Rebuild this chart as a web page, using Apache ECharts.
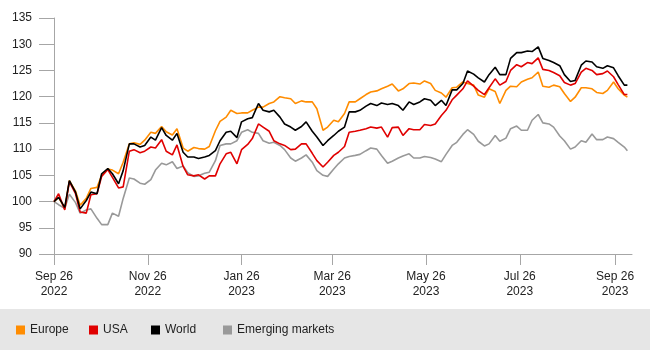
<!DOCTYPE html>
<html>
<head>
<meta charset="utf-8">
<script src="https://cdn.jsdelivr.net/npm/echarts@6/dist/echarts.min.js"></script>
<style>
  html, body { margin: 0; padding: 0; background: #fff; }
  #chart { width: 650px; height: 350px; }
</style>
</head>
<body>
<div id="chart"></div>
<script>
// dates (every Mon / Thu)
const dates = ["2022-09-26","2022-09-29","2022-10-03","2022-10-06","2022-10-10","2022-10-13","2022-10-17","2022-10-20","2022-10-24","2022-10-27","2022-10-31","2022-11-03","2022-11-07","2022-11-10","2022-11-14","2022-11-17","2022-11-21","2022-11-24","2022-11-28","2022-12-01","2022-12-05","2022-12-08","2022-12-12","2022-12-15","2022-12-19","2022-12-22","2022-12-26","2022-12-29","2023-01-02","2023-01-05","2023-01-09","2023-01-12","2023-01-16","2023-01-19","2023-01-23","2023-01-26","2023-01-30","2023-02-02","2023-02-06","2023-02-09","2023-02-13","2023-02-16","2023-02-20","2023-02-23","2023-02-27","2023-03-02","2023-03-06","2023-03-09","2023-03-13","2023-03-16","2023-03-20","2023-03-23","2023-03-27","2023-03-30","2023-04-03","2023-04-06","2023-04-10","2023-04-13","2023-04-17","2023-04-20","2023-04-24","2023-04-27","2023-05-01","2023-05-04","2023-05-08","2023-05-11","2023-05-15","2023-05-18","2023-05-22","2023-05-25","2023-05-29","2023-06-01","2023-06-05","2023-06-08","2023-06-12","2023-06-15","2023-06-19","2023-06-22","2023-06-26","2023-06-29","2023-07-03","2023-07-06","2023-07-10","2023-07-13","2023-07-17","2023-07-20","2023-07-24","2023-07-27","2023-07-31","2023-08-03","2023-08-07","2023-08-10","2023-08-14","2023-08-17","2023-08-21","2023-08-24","2023-08-28","2023-08-31","2023-09-04","2023-09-07","2023-09-11","2023-09-14","2023-09-18","2023-09-21","2023-09-25","2023-09-28","2023-10-02","2023-10-04"];

const europe = [100,100.8,98.7,104.0,102.0,99.3,100.6,102.5,102.7,105.0,106.2,106.0,105.3,107.5,111.0,111.2,110.9,111.7,113.2,113.0,114.3,113.3,112.7,113.9,110.2,109.6,110.3,110.1,110.0,110.5,113.5,115.3,116.1,117.4,116.8,116.9,116.9,117.4,118.0,118.0,118.7,119.0,120.0,119.8,119.6,118.7,119.2,119.0,119.0,117.7,113.6,114.2,115.5,115.2,116.8,119.0,119.0,119.6,120.4,120.9,121.1,121.5,122.0,122.4,121.1,121.5,122.5,122.6,122.4,123.0,122.5,121.2,120.7,119.9,121.7,121.8,122.8,122.5,122.2,120.3,119.9,121.5,121.0,118.7,121.2,122.0,121.9,122.8,123.3,123.6,124.7,122.0,121.8,122.2,121.9,120.6,119.1,119.9,121.7,121.7,121.5,120.8,120.6,121.2,122.8,121.5,120.3,119.9];

const usa = [100,101.5,98.4,103.8,101.5,98.0,97.8,101.3,101.5,104.8,106.1,104.6,102.6,102.8,109.6,109.9,109.3,109.6,110.4,110.2,111.8,109.6,108.9,110.8,106.7,105.1,104.9,105.1,104.3,104.9,104.9,107.2,109.1,109.4,107.2,109.9,110.9,112.0,114.8,114.2,113.4,111.6,111.0,110.7,109.9,110.0,111.0,111.0,109.2,107.8,106.6,107.5,108.8,109.4,110.5,113.2,113.4,113.6,113.9,114.2,114.0,114.2,112.3,114.1,114.2,112.6,113.9,113.7,113.7,114.7,114.5,114.8,116.4,117.4,119.4,120.3,121.5,123.0,122.0,121.2,120.4,121.7,123.4,122.2,122.9,125.0,126.1,125.7,126.5,126.3,127.4,125.2,125.0,124.6,124.0,122.7,122.2,122.5,124.7,125.4,125.0,124.2,124.4,124.9,123.8,122.3,120.4,120.4];

const world = [100,100.8,98.9,104.0,101.8,98.6,100.2,101.8,101.5,105.3,106.3,105.3,103.4,105.9,111.0,111.0,110.4,110.7,112.3,111.7,114.1,112.6,111.7,113.0,109.4,108.5,108.5,108.2,108.5,108.8,109.7,111.6,113.2,113.4,112.2,115.2,115.8,116.0,118.7,117.4,117.1,117.4,116.1,114.8,114.2,113.6,114.3,115.2,113.4,112.3,110.7,111.6,112.6,113.4,114.2,117.1,117.1,117.4,118.2,118.7,118.3,118.8,118.5,118.7,118.3,117.4,119.0,118.5,119.0,119.6,119.3,118.3,119.3,118.3,121.3,121.3,122.5,124.9,124.3,123.6,122.8,124.2,125.6,124.2,124.2,127.3,128.4,128.4,128.7,128.6,129.5,127.3,126.9,126.5,125.9,124.2,122.9,123.1,126.0,126.8,126.6,125.7,125.4,125.9,125.5,124.0,122.2,122.2];

const emerging = [100,99.4,98.7,101.4,99.8,97.8,98.4,98.6,96.8,95.6,95.6,97.8,97.2,100.6,104.5,104.3,103.5,103.3,104.2,106.0,107.3,107.0,107.6,106.3,106.8,105.5,104.8,104.9,105.4,105.6,107.8,110.7,111.0,111.0,111.6,113.2,113.7,113.2,113.0,111.6,111.1,111.3,110.7,109.9,108.3,107.7,108.3,108.9,107.5,105.9,105.0,104.8,106.2,107.2,108.3,108.6,108.8,109.0,109.7,110.2,110.0,108.8,107.3,107.7,108.3,108.7,109.1,108.3,108.3,108.6,108.4,108.1,107.6,109.0,110.7,111.3,112.8,113.7,112.8,111.5,110.6,111.0,112.6,111.5,112.1,113.9,114.4,113.6,113.6,115.5,116.6,115.0,114.8,114.2,112.5,111.6,110.0,110.4,111.6,111.3,112.9,111.8,111.8,112.3,112.0,111.3,110.4,109.7];

const tickDates = ["2022-09-26","2022-11-26","2023-01-26","2023-03-26","2023-05-26","2023-07-26","2023-09-26"];
const months = ["Jan","Feb","Mar","Apr","May","Jun","Jul","Aug","Sep","Oct","Nov","Dec"];

const legendNames = ["Europe", "USA", "World", "Emerging markets"];
const legendLeft = [16, 89, 151, 223];

function toTime(s) {
  const p = s.split("-");
  return new Date(+p[0], +p[1] - 1, +p[2]).getTime();
}

function pairs(values) {
  return values.map((v, i) => [toTime(dates[i]), v]);
}

const font = "Liberation Sans, Arial, Helvetica, sans-serif";
const axisColor = "#a6a6a6";

const chart = echarts.init(document.getElementById("chart"), null, { renderer: "canvas" });

const option = {
  animation: false,
  graphic: [
    {
      type: "rect",
      z: -10,
      shape: { x: 0, y: 309, width: 650, height: 41 },
      style: { fill: "#e6e6e6" }
    }
  ],
  grid: { left: 54, right: 18, top: 18, bottom: 96 },
  legend: legendNames.map((n, i) => ({
    data: [n],
    left: legendLeft[i],
    top: 324,
    padding: 0,
    icon: "rect",
    itemWidth: 9,
    itemHeight: 9,
    selectedMode: false,
    textStyle: { fontFamily: font, fontSize: 12, color: "#222" }
  })),
  // x is a value axis of timestamps so ticks can sit on the 26th
  xAxis: {
    type: "value",
    min: toTime("2022-09-26"),
    max: toTime("2023-10-07"),
    axisLine: { lineStyle: { color: axisColor, width: 1 } },
    axisTick: {
      show: true,
      length: 11,
      customValues: tickDates.map(toTime),
      lineStyle: { color: axisColor }
    },
    axisLabel: {
      customValues: tickDates.map(toTime),
      margin: 15,
      fontFamily: font,
      fontSize: 12,
      lineHeight: 15,
      color: "#222",
      formatter: function (val) {
        const d = new Date(val);
        return months[d.getMonth()] + " " + d.getDate() + "\n" + d.getFullYear();
      }
    },
    splitLine: { show: false }
  },
  yAxis: {
    type: "value",
    min: 90,
    max: 135,
    interval: 5,
    axisLine: { show: true, lineStyle: { color: axisColor, width: 1 } },
    axisTick: { show: true, length: 15, lineStyle: { color: axisColor } },
    axisLabel: { margin: 22, fontFamily: font, fontSize: 12, color: "#222" },
    splitLine: { show: false }
  },
  series: [
    { name: "Emerging markets", type: "line", data: pairs(emerging), color: "#999999" },
    { name: "Europe", type: "line", data: pairs(europe), color: "#ff8c00" },
    { name: "USA", type: "line", data: pairs(usa), color: "#e00000" },
    { name: "World", type: "line", data: pairs(world), color: "#000000" }
  ].map(s => Object.assign(s, {
    showSymbol: false,
    symbol: "none",
    lineStyle: { width: 1.6, color: s.color },
    emphasis: { disabled: true }
  }))
};

chart.setOption(option);
</script>
</body>
</html>
